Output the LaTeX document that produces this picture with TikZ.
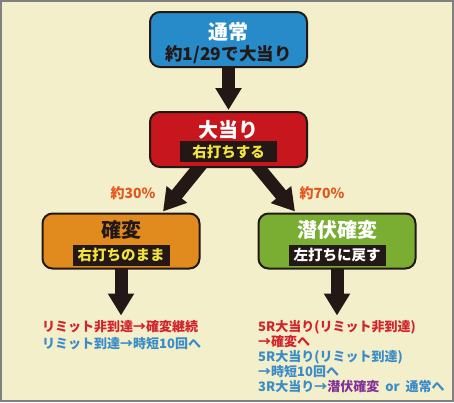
\documentclass[tikz,border=0pt]{standalone}
\usepackage{fontspec}
\newfontfamily\jp{Noto Sans CJK JP}
\usetikzlibrary{calc, arrows.meta}

\definecolor{paper}{RGB}{243,239,202}
\definecolor{frame}{RGB}{128,128,128}
\definecolor{normalblue}{RGB}{40,139,201}
\definecolor{hitred}{RGB}{200,22,30}
\definecolor{kakuhenorange}{RGB}{225,139,30}
\definecolor{senpukugreen}{RGB}{122,174,50}
\definecolor{tagblack}{RGB}{35,24,21}
\definecolor{tagyellow}{RGB}{242,228,60}
\definecolor{rateorange}{RGB}{226,86,30}
\definecolor{noteblue}{RGB}{58,140,200}
\definecolor{notered}{RGB}{210,35,45}
\definecolor{notepurple}{RGB}{130,50,150}

\pgfdeclarelayer{back}
\pgfsetlayers{back,main}

\tikzset{
	statebox/.style = {draw = tagblack, line width = 2pt, rounded corners = 10pt,
		minimum width = 157pt, minimum height = 55pt},
	titletext/.style = {inner sep = 0pt, font = \jp\bfseries\fontsize{20}{20}\selectfont},
	tagbox/.style = {fill = tagblack, inner sep = 0pt, minimum width = 97pt, minimum height = 21pt,
		font = \jp\bfseries\fontsize{14.5}{15}\selectfont},
	bigarrow/.style = {tagblack, line width = 13pt, -{Triangle[length = 22pt, width = 25pt]}},
	ratetext/.style = {rateorange, inner sep = 0pt, font = \jp\bfseries\fontsize{14}{14}\selectfont},
	notetext/.style = {anchor = north west, align = left, inner sep = 0pt}
}

\begin{document}
\begin{tikzpicture}[x = 1pt, y = -1pt]
	\begin{pgfonlayer}{back}
		\fill[frame] (0,0) rectangle (454,402);
		\fill[paper] (2,2) rectangle (452,400);
	\end{pgfonlayer}

	% states
	\node[statebox, fill = normalblue] (normal) at (228.5,39.5) {};
	\node[statebox, fill = hitred] (hit) at (228.5,139.5) {};
	\node[statebox, fill = kakuhenorange] (kakuhen) at (121,241) {};
	\node[statebox, fill = senpukugreen] (senpuku) at (337,241) {};

	\node[titletext, white] (normalTitle) at ($(normal.center)+(0,-8)$) {通常};
	\node[titletext, tagblack, font = \jp\bfseries\fontsize{17.5}{17.5}\selectfont] (normalRate) at ($(normal.center)+(0,15)$) {約1/29で大当り};

	\node[titletext, white] (hitTitle) at ($(hit.center)+(0,-10)$) {大当り};
	\node[tagbox, text = tagyellow] (hitTag) at ($(hit.center)+(0,12)$) {右打ちする};

	\node[titletext, tagblack] (kakuhenTitle) at ($(kakuhen.center)+(0,-11)$) {確変};
	\node[tagbox, text = tagyellow] (kakuhenTag) at ($(kakuhen.center)+(0,14)$) {右打ちのまま};

	\node[titletext, white] (senpukuTitle) at ($(senpuku.center)+(0,-11)$) {潜伏確変};
	\node[tagbox, text = white] (senpukuTag) at ($(senpuku.center)+(0,14)$) {左打ちに戻す};

	% arrows
	\begin{pgfonlayer}{back}
		\draw[bigarrow] (normal.center) -- ($(hit.north)+(0,-1)$);
		\draw[bigarrow] ($(hit.center)+(-16,11)$) -- ($(kakuhen.north)+(42,-1)$);
		\draw[bigarrow] ($(hit.center)+(16,11)$) -- ($(senpuku.north)+(-42,-1)$);
		\draw[bigarrow] (kakuhen.center) -- ($(kakuhen.south)+(0,46)$);
		\draw[bigarrow] (senpuku.center) -- ($(senpuku.south)+(0,46)$);
	\end{pgfonlayer}

	\node[ratetext] (rateKakuhen) at (133,193) {約30\%};
	\node[ratetext] (rateSenpuku) at (322,193) {約70\%};

	% notes
	\node[notetext, font = \jp\bfseries\fontsize{13}{17}\selectfont] (kakuhenNote) at (42,320) {%
		\textcolor{notered}{リミット非到達→確変継続}\\
		\textcolor{noteblue}{リミット到達→時短10回へ}};
	\node[notetext, font = \jp\bfseries\fontsize{13}{15}\selectfont] (senpukuNote) at (258,320) {%
		\textcolor{notered}{5R大当り(リミット非到達)}\\
		\textcolor{notered}{→確変へ}\\
		\textcolor{noteblue}{5R大当り(リミット到達)}\\
		\textcolor{noteblue}{→時短10回へ}\\
		\textcolor{noteblue}{3R大当り→\textcolor{notepurple}{潜伏確変}\ \ or\ \ 通常へ}};
\end{tikzpicture}
\end{document}
